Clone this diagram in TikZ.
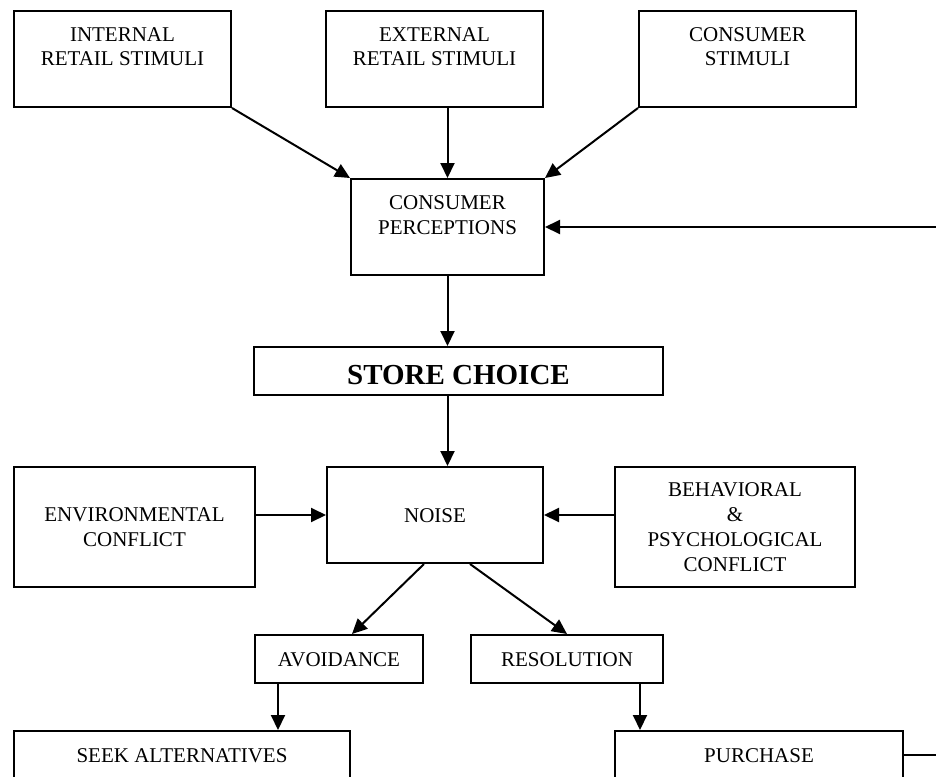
\documentclass[tikz,border=0pt]{standalone}
\usepackage{fontspec}
\setmainfont{Liberation Serif}
\usetikzlibrary{arrows.meta}
\newcommand\ls{\rule[-5.5pt]{0pt}{25pt}}
\begin{document}
\begin{tikzpicture}[x=1pt,y=-1pt,
  box/.style={draw, line width=2pt, inner sep=0pt, align=center,
    font=\fontsize{21}{25}\selectfont},
  arr/.style={line width=2pt, -{Triangle[length=15pt,width=14pt]}},
  lin/.style={line width=2pt}]
\useasboundingbox (0,0) rectangle (936,776);
\clip (0,0) rectangle (936,776);
% top row
\node[box, minimum width=217pt, minimum height=96pt] (int) at (122.5,59) {INTERNAL\ls\\RETAIL STIMULI\ls\\\ls};
\node[box, minimum width=217pt, minimum height=96pt] (ext) at (434.5,59) {EXTERNAL\ls\\RETAIL STIMULI\ls\\\ls};
\node[box, minimum width=217pt, minimum height=96pt] (cs) at (747.5,59) {CONSUMER\ls\\STIMULI\ls\\\ls};
% consumer perceptions
\node[box, minimum width=193pt, minimum height=96pt] (cp) at (447.5,227) {CONSUMER\ls\\PERCEPTIONS\ls\\\ls};
% store choice
\node[box, minimum width=409pt, minimum height=48pt, font=\fontsize{29}{34}\selectfont\bfseries] (sc) at (458.5,371) {\rule[-1pt]{0pt}{28pt}STORE CHOICE};
% noise row
\node[box, minimum width=216pt, minimum height=96pt] (noise) at (435,515) {NOISE\ls};
\node[box, minimum width=241pt, minimum height=120pt] (env) at (134.5,527) {ENVIRONMENTAL\ls\\CONFLICT\ls};
\node[box, minimum width=240pt, minimum height=120pt] (beh) at (735,527) {BEHAVIORAL\ls\\\&\ls\\PSYCHOLOGICAL\ls\\CONFLICT\ls};
% avoidance / resolution
\node[box, minimum width=168pt, minimum height=48pt] (avoid) at (339,659) {AVOIDANCE\ls};
\node[box, minimum width=192pt, minimum height=48pt] (res) at (567,659) {RESOLUTION\ls};
% bottom
\node[box, minimum width=336pt, minimum height=48pt] (seek) at (182,755) {SEEK ALTERNATIVES\ls};
\node[box, minimum width=288pt, minimum height=48pt] (pur) at (759,755) {PURCHASE\ls};
% connectors
\draw[arr] (int.south east) -- (cp.north west);
\draw[arr] (cp.north |- ext.south) -- (cp.north);
\draw[arr] (cs.south west) -- (cp.north east);
\draw[arr] (cp.south) -- (cp.south |- sc.north);
\draw[arr] (cp.south |- sc.south) -- (cp.south |- noise.north);
\draw[arr] (env.east |- noise.west) -- (noise.west);
\draw[arr] (beh.west |- noise.east) -- (noise.east);
\coordinate (avtip) at ([xshift=13pt]avoid.north);
\draw[arr] (noise.south -| avoid.east) -- (avtip);
\draw[arr] (noise.south -| res.west) -- (res.north);
\coordinate (avs) at ([xshift=24pt]avoid.south west);
\draw[arr] (avs) -- (avs |- seek.north);
\coordinate (rss) at ([xshift=-24pt]res.south east);
\draw[arr] (rss) -- (rss |- pur.north);
\coordinate (fb) at (960,755);
\draw[arr] (pur.east) -- (fb) |- (cp.east);
\end{tikzpicture}
\end{document}
